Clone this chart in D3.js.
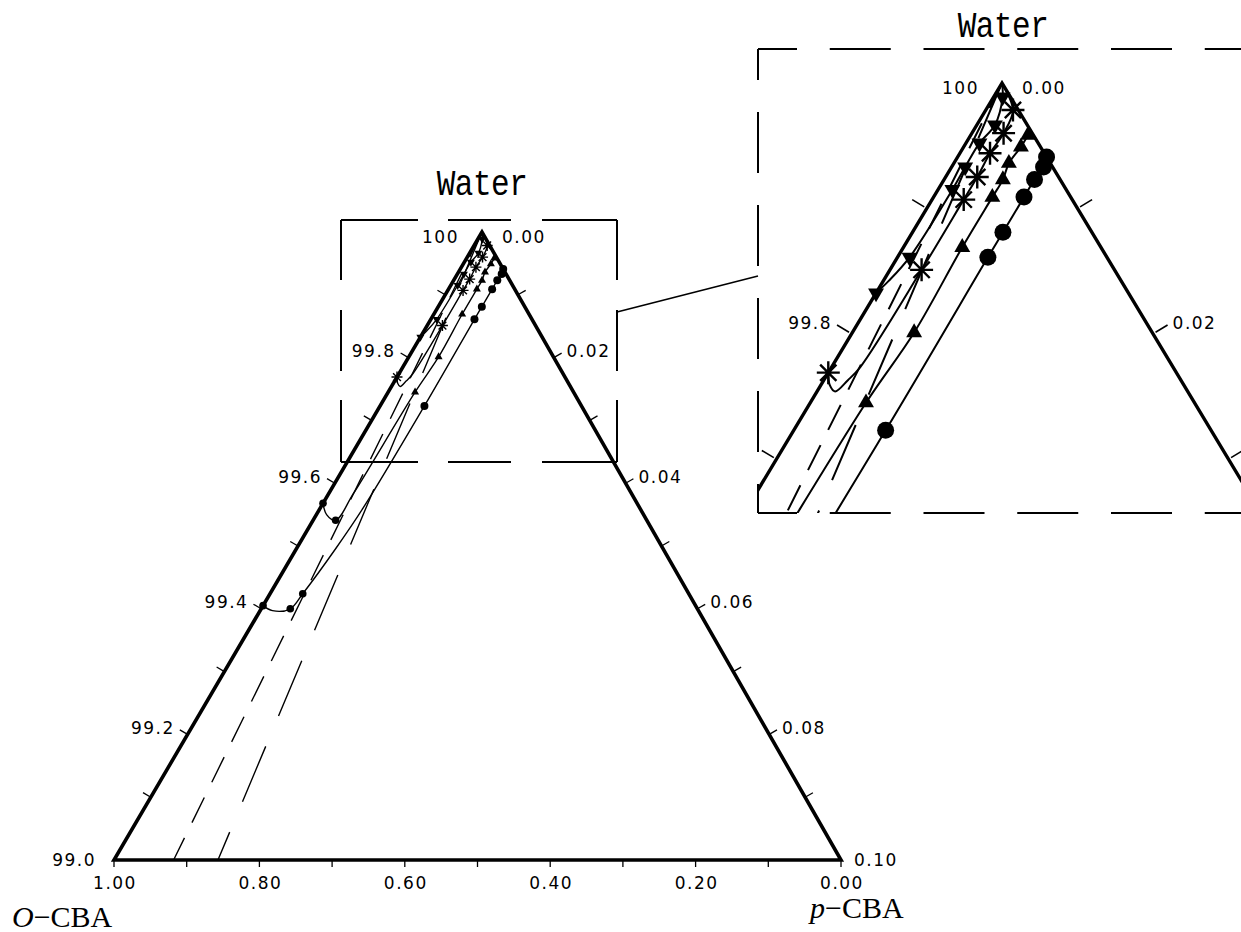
<!DOCTYPE html>
<html><head><meta charset="utf-8">
<script src="https://cdn.jsdelivr.net/npm/d3@7"></script>
<style>
body{margin:0;background:#fff;}
svg{display:block;}
</style></head>
<body><svg id="c" width="1241" height="932"></svg>
<script>
// ---------------- DATA ----------------
// points are [water wt%, p-CBA (right-axis units)]
const leftTickValues   = [99.0, 99.2, 99.4, 99.6, 99.8, 100];
const leftTickLabels   = ["99.0","99.2","99.4","99.6","99.8","100"];
const rightTickValues  = [0.00, 0.02, 0.04, 0.06, 0.08, 0.10];
const rightTickLabels  = ["0.00","0.02","0.04","0.06","0.08","0.10"];
const bottomTickValues = [1.00, 0.80, 0.60, 0.40, 0.20, 0.00];
const bottomTickLabels = ["1.00","0.80","0.60","0.40","0.20","0.00"];

const circlePath = [[99.941,0.0059],[99.933,0.0061],[99.923,0.0060],[99.909,0.0060],[99.881,0.0060],
  [99.861,0.0060],[99.723,0.0061],[99.561,0.0059],[99.496,0.0054],[99.424,0.0045],[99.400,0.0040],
  [99.397,0.0017],[99.405,0.0000]];
const circleMarks = [[99.941,0.0059],[99.933,0.0061],[99.923,0.0060],[99.909,0.0060],[99.881,0.0060],
  [99.861,0.0060],[99.723,0.0061]];

const trianglePath = [[99.9585,0.0038],[99.949,0.0038],[99.936,0.00365],[99.923,0.0039],[99.909,0.0039],
  [99.869,0.0039],[99.801,0.0041],[99.745,0.0037],[99.584,0.0034],[99.541,0.0031],[99.550,0.0014],[99.568,0.0000]];
const triangleMarks = [[99.9585,0.0038],[99.949,0.0038],[99.936,0.00365],[99.923,0.0039],[99.909,0.0039],
  [99.869,0.0039],[99.801,0.0041],[99.745,0.0037]];

const starPath = [[100,0],[99.9785,0.0018],[99.960,0.0021],[99.944,0.0020],[99.925,0.0021],[99.907,0.0021],
  [99.851,0.0021],[99.7735,0.0019],[99.763,0.0016],[99.754,0.0012],[99.759,0.0006],[99.769,0.0000]];
const starMarks = [[99.9785,0.0018],[99.960,0.0021],[99.944,0.0020],[99.925,0.0021],[99.907,0.0021],
  [99.851,0.0021],[99.769,0.0000]];

const invTriPath = [[100,0],[99.9888,0.0006],[99.9665,0.0012],[99.952,0.0009],[99.933,0.0009],[99.915,0.00095],
  [99.861,0.0008],[99.842,0.00035],[99.8325,0.0000]];
const invTriMarks = [[99.9888,0.0006],[99.9665,0.0012],[99.952,0.0009],[99.933,0.0009],[99.915,0.00095],
  [99.861,0.0008],[99.8325,0.0000]];

const endDots = [[99.424,0.0045],[99.400,0.0040],[99.405,0.0000],[99.541,0.0031],[99.568,0.0000]];

const dashedShort = [[100,0],[99.0,0.0082]];
const dashedLong  = [[100,0],[99.0,0.0143]];

// ---------------- DRAW ----------------
const svg = d3.select("#c");
const waterToA = d3.scaleLinear().domain([100, 99]).range([0, 1]);
const pToF = d3.scaleLinear().domain([0, 0.10]).range([0, 1]);
const oToF = d3.scaleLinear().domain([1, 0]).range([0, 1]);

function makeProj(A, L, R) {
  const f = function(a, pf) {
    const wa = 1 - a, wl = a - pf, wr = pf;
    return [wa*A[0] + wl*L[0] + wr*R[0], wa*A[1] + wl*L[1] + wr*R[1]];
  };
  return { pt: d => f(waterToA(d[0]), pToF(d[1])), raw: f };
}

function unit(v){const l=Math.hypot(v[0],v[1]);return [v[0]/l,v[1]/l];}

function starD(r){
  let s="";
  for(let k=0;k<4;k++){const t=k*Math.PI/4,c=Math.cos(t)*r,d=Math.sin(t)*r;
    s+=`M${(-c).toFixed(2)},${(-d).toFixed(2)}L${c.toFixed(2)},${d.toFixed(2)}`;}
  return s;
}

const FONT = "'DejaVu Sans', sans-serif";

function drawPanel(root, A, L, R, o) {
  const P = makeProj(A, L, R);
  const g = root.append("g");
  const gc = o.clip ? g.append("g").attr("clip-path", "url(#" + o.clip + ")") : g;
  gc.append("path").attr("d", `M${A}L${L}L${R}Z`).attr("fill","none")
    .attr("stroke","#000").attr("stroke-width",o.edgeW).attr("stroke-linejoin","miter");
  const dL = unit([L[0]-A[0],L[1]-A[1]]); const outL = [-dL[1], dL[0]];
  const nLeft = outL[0] < 0 ? outL : [-outL[0], -outL[1]];
  const dR = unit([R[0]-A[0],R[1]-A[1]]); const outR = [dR[1], -dR[0]];
  const nRight = outR[0] > 0 ? outR : [-outR[0], -outR[1]];

  const minorWater = d3.scaleLinear().domain([99,100]).ticks(10).filter(v => v > 99.001 && v < 99.999);
  const minorP = d3.scaleLinear().domain([0,0.10]).ticks(10).filter(v => v > 0.0001 && v < 0.0999);
  const tl = o.tickLen, tg = o.tickGap;
  minorWater.forEach(w => {
    const p = P.pt([w,0]);
    gc.append("line").attr("x1",p[0]+nLeft[0]*tg).attr("y1",p[1]+nLeft[1]*tg)
      .attr("x2",p[0]+nLeft[0]*(tl+tg)).attr("y2",p[1]+nLeft[1]*(tl+tg))
      .attr("stroke","#000").attr("stroke-width",o.tickW);
  });
  minorP.forEach(v => {
    const a = pToF(v); const p = P.raw(a, a);
    gc.append("line").attr("x1",p[0]+nRight[0]*tg).attr("y1",p[1]+nRight[1]*tg)
      .attr("x2",p[0]+nRight[0]*(tl+tg)).attr("y2",p[1]+nRight[1]*(tl+tg))
      .attr("stroke","#000").attr("stroke-width",o.tickW);
  });
  if (o.bottom) {
    d3.scaleLinear().domain([0,1]).ticks(10).forEach(v => {
      const p = P.raw(1, oToF(v));
      gc.append("line").attr("x1",p[0]).attr("y1",p[1]).attr("x2",p[0]).attr("y2",p[1]+7)
        .attr("stroke","#000").attr("stroke-width",o.tickW);
    });
  }
  const inBox = (x,y) => !o.box || (x > o.box[0] && x < o.box[2] && y > o.box[1] && y < o.box[3]);
  const lab = (x,y,t,anchor) => { if(!inBox(x,y-5)) return;
    g.append("text").attr("x",x).attr("y",y).attr("text-anchor",anchor).attr("font-family",FONT)
      .attr("font-size",17).attr("letter-spacing","1.5px").text(t); };
  const te = tl + tg;
  leftTickValues.forEach((w,i) => {
    const a = waterToA(w); const p = P.pt([w,0]);
    if (a < 0.001) lab(A[0]-23, A[1]+11, leftTickLabels[i], "end");
    else if (a > 0.999) lab(L[0]-18, L[1]+6, leftTickLabels[i], "end");
    else lab(p[0]+nLeft[0]*te-5, p[1]+nLeft[1]*te+4, leftTickLabels[i], "end");
  });
  rightTickValues.forEach((v,i) => {
    const a = pToF(v); const p = P.raw(a,a);
    if (a < 0.001) lab(A[0]+20, A[1]+11, rightTickLabels[i], "start");
    else if (a > 0.999) lab(R[0]+13, R[1]+6, rightTickLabels[i], "start");
    else lab(p[0]+nRight[0]*te+5, p[1]+nRight[1]*te+4, rightTickLabels[i], "start");
  });
  if (o.bottom) bottomTickValues.forEach((v,i) => {
    const p = P.raw(1, oToF(v));
    lab(p[0]+1, p[1]+29, bottomTickLabels[i], "middle");
  });
  const line = d3.line().x(d=>P.pt(d)[0]).y(d=>P.pt(d)[1]);
  gc.append("path").attr("d", line(dashedShort)).attr("fill","none").attr("stroke","#000")
    .attr("stroke-width",o.lineW).attr("stroke-dasharray","28 17");
  gc.append("path").attr("d", line(dashedLong)).attr("fill","none").attr("stroke","#000")
    .attr("stroke-width",o.lineW).attr("stroke-dasharray","60 33");
  const cl = d3.line().x(d=>P.pt(d)[0]).y(d=>P.pt(d)[1]).curve(d3.curveCatmullRom.alpha(0.5));
  [circlePath, trianglePath, starPath, invTriPath].forEach(s => {
    gc.append("path").attr("d", cl(s)).attr("fill","none").attr("stroke","#000").attr("stroke-width",o.lineW);
  });
  gc.selectAll(null).data(circleMarks).join("circle")
    .attr("cx",d=>P.pt(d)[0]).attr("cy",d=>P.pt(d)[1]).attr("r",o.cr).attr("fill","#000");
  gc.selectAll(null).data(endDots).join("circle")
    .attr("cx",d=>P.pt(d)[0]).attr("cy",d=>P.pt(d)[1]).attr("r",o.dr).attr("fill","#000");
  const tri = d3.symbol(d3.symbolTriangle, o.triSize);
  gc.selectAll(null).data(triangleMarks).join("path")
    .attr("transform",d=>`translate(${P.pt(d)})`).attr("d",tri).attr("fill","#000");
  gc.selectAll(null).data(invTriMarks).join("path")
    .attr("transform",d=>`translate(${P.pt(d)}) rotate(180)`).attr("d",tri).attr("fill","#000");
  gc.selectAll(null).data(starMarks).join("path")
    .attr("transform",d=>`translate(${P.pt(d)})`).attr("d",starD(o.starR))
    .attr("fill","none").attr("stroke","#000").attr("stroke-width",o.starW);
  g.append("text").attr("transform",`translate(${o.titleX},${o.titleY}) scale(1,1.18)`)
    .attr("text-anchor","middle").attr("letter-spacing","-0.5px")
    .attr("font-family","'Liberation Mono', monospace").attr("font-size",31).text("Water");
}

svg.append("defs").append("clipPath").attr("id","insClip")
  .append("rect").attr("x",758).attr("y",49).attr("width",600).attr("height",464);

drawPanel(svg.append("g"), [482,232], [114,860], [841,860], {
  edgeW:3.6, tickLen:8, tickGap:1, tickW:1.3, lineW:1.4, cr:4, dr:3.8, triSize:28, starR:5.5, starW:1.4,
  bottom:true, titleX:482, titleY:195
});
drawPanel(svg.append("g"), [1002,83], [250,1337], [1757,1337], {
  edgeW:3.4, tickLen:14, tickGap:3, tickW:1.6, lineW:2, cr:8.5, dr:7, triSize:110, starR:11.5, starW:2.4,
  bottom:false, clip:"insClip", box:[758,49,1300,513], titleX:1003, titleY:37
});

const dash = (x1,y1,x2,y2,da,off) => svg.append("line").attr("x1",x1).attr("y1",y1).attr("x2",x2).attr("y2",y2)
  .attr("stroke","#000").attr("stroke-width",2).attr("stroke-dasharray",da).attr("stroke-dashoffset",off||0);
dash(341,220,617,220,"77 30 63 31 75");
dash(341,462,617,462,"77 30 63 31 75");
dash(341,220,341,462,"60 30 61 29 62");
dash(617,220,617,462,"60 30 61 29 62");
dash(758,49,1241,49,"61 32.75",22);
dash(758,513,1241,513,"61 32.75",22);
dash(758,49,758,513,"61 32",30);
svg.append("line").attr("x1",617).attr("y1",312).attr("x2",758).attr("y2",276)
  .attr("stroke","#000").attr("stroke-width",1.6);

const t1 = svg.append("text").attr("x",12).attr("y",927).attr("font-family","'Liberation Serif', serif").attr("font-size",30);
t1.append("tspan").attr("font-style","italic").text("O");
t1.append("tspan").text("\u2212CBA");
const t2 = svg.append("text").attr("x",810).attr("y",918).attr("font-family","'Liberation Serif', serif").attr("font-size",30);
t2.append("tspan").attr("font-style","italic").text("p");
t2.append("tspan").text("\u2212CBA");
</script>
</body></html>
